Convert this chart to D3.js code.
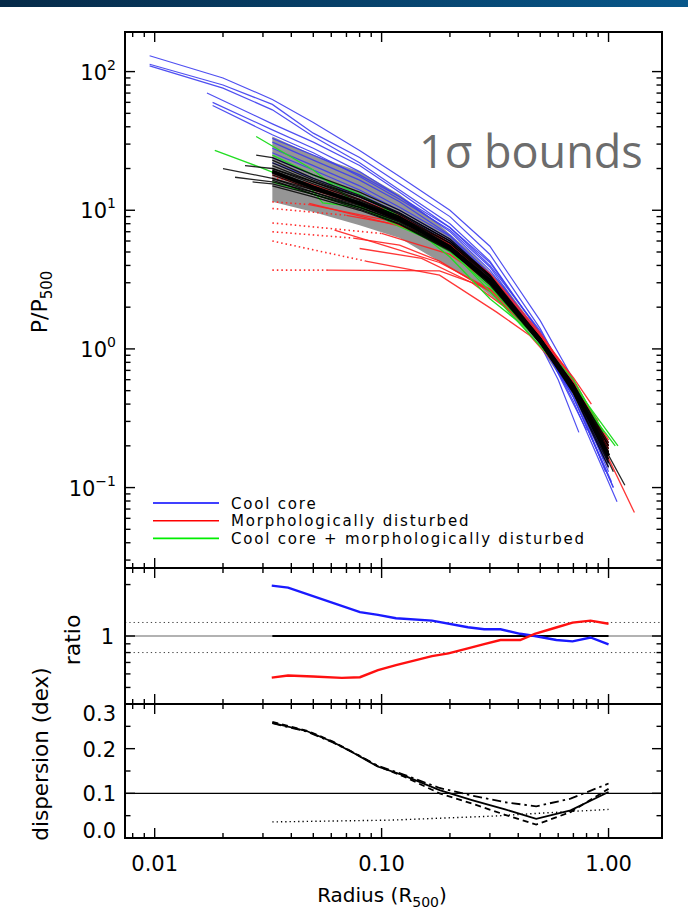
<!DOCTYPE html>
<html><head><meta charset="utf-8">
<script src="https://cdn.jsdelivr.net/npm/d3@7"></script>
<style>body{margin:0;background:#fff}svg{display:block}</style>
</head><body><svg id="c" width="688" height="912"></svg>
<script>
// ---------------- DATA ----------------
const xTickValues = [0.01, 0.1, 1];
const xTickLabels = ["0.01", "0.10", "1.00"];
const yTopTickValues = [0.1, 1, 10, 100];
const yTopTickExp = ["\u22121", "0", "1", "2"];
const ratioTickValues = [1];
const ratioTickLabels = ["1"];
const dispTickValues = [0.0, 0.1, 0.2, 0.3];
const dispTickLabels = ["0.0", "0.1", "0.2", "0.3"];
const legendLabels = ["Cool core", "Morphologically disturbed", "Cool core + morphologically disturbed"];

// 1-sigma band
const bandR  = [0.033, 0.05, 0.08, 0.12, 0.17, 0.25, 0.35, 0.5, 0.7, 1.0];
const bandHi = [34, 25, 19, 13, 8.5, 4.9, 2.8, 1.28, 0.6, 0.21];
const bandLo = [11.5, 9.7, 7.8, 6.3, 4.5, 3.1, 2.0, 1.03, 0.45, 0.135];

// profiles [r, P/P500]
const blueProfiles = [
 [[0.0095,130],[0.02,90],[0.033,63],[0.05,43],[0.08,27],[0.12,17.5],[0.2,10],[0.3,5.5],[0.5,1.6],[0.7,0.6],[0.95,0.16]],
 [[0.0095,113],[0.02,80],[0.033,58],[0.05,36],[0.08,24],[0.12,15.5],[0.2,9],[0.3,4.8],[0.5,1.4],[0.7,0.5],[1.0,0.13]],
 [[0.0095,110],[0.02,76],[0.033,53],[0.05,34],[0.08,22],[0.12,14],[0.2,8],[0.3,4.3],[0.5,1.3],[0.7,0.45],[1.05,0.1]],
 [[0.017,70],[0.033,42],[0.05,31],[0.08,21],[0.12,13.5],[0.2,7.5],[0.3,4.0],[0.5,1.35],[0.7,0.55],[0.92,0.22]],
 [[0.018,60],[0.033,38],[0.05,28],[0.08,19],[0.12,12.5],[0.2,7],[0.3,3.7],[0.5,1.25],[0.75,0.4],[1.0,0.14]],
 [[0.018,57],[0.033,35],[0.05,26],[0.08,17.5],[0.12,12],[0.2,7.2],[0.3,3.9],[0.5,1.2],[0.8,0.26]],
 [[0.033,31],[0.05,23],[0.08,16.5],[0.12,11.5],[0.2,6.6],[0.3,3.5],[0.5,1.2],[0.7,0.55],[1.0,0.15]],
 [[0.033,28],[0.05,21],[0.08,15],[0.12,10.5],[0.2,6.5],[0.3,3.3],[0.45,1.5],[0.6,0.6],[0.74,0.25]],
 [[0.033,26],[0.05,19.5],[0.08,14],[0.12,10],[0.2,6.2],[0.3,3.4],[0.5,1.15],[0.7,0.45],[1.05,0.1]],
 [[0.033,24],[0.05,18],[0.08,13],[0.12,9.5],[0.2,6],[0.3,3.5],[0.5,1.2],[0.7,0.42],[1.09,0.079]],
 [[0.033,22],[0.05,17],[0.08,12.5],[0.12,9.2],[0.2,5.8],[0.3,3.3],[0.5,1.1],[0.7,0.45],[1.03,0.11]],
 [[0.033,33],[0.05,25],[0.08,18],[0.12,12.5],[0.2,7.5],[0.3,4.2],[0.5,1.3],[0.7,0.5],[0.97,0.13]]
];
const blackProfiles = [
 [[0.02,20],[0.033,17],[0.05,14],[0.08,11.5],[0.12,9],[0.2,5.8],[0.3,3.3],[0.5,1.2],[0.7,0.5],[1.0,0.16]],
 [[0.0226,17.3],[0.033,16],[0.05,13.5],[0.08,10.5],[0.12,8.2],[0.2,5.2],[0.3,3.0],[0.5,1.1],[0.7,0.5],[1.0,0.18]],
 [[0.027,16],[0.033,15.5],[0.05,13],[0.08,10.5],[0.12,8.3],[0.2,5.5],[0.3,3.1],[0.5,1.15],[0.75,0.42],[1.05,0.13]],
 [[0.025,21],[0.033,20],[0.05,16],[0.08,12.5],[0.12,9.5],[0.2,6],[0.3,3.4],[0.5,1.2],[0.7,0.55],[0.95,0.2]],
 [[0.028,25],[0.033,24],[0.05,18],[0.08,13.5],[0.12,10],[0.2,6.2],[0.3,3.4],[0.5,1.15],[0.7,0.5],[1.0,0.17]],
 [[0.033,21],[0.05,16],[0.08,12],[0.12,9],[0.2,5.6],[0.3,3.1],[0.5,1.1],[0.7,0.5],[1.0,0.19]],
 [[0.033,19.5],[0.05,15],[0.08,11.5],[0.12,8.8],[0.2,5.4],[0.3,3.0],[0.5,1.12],[0.7,0.52],[1.0,0.2]],
 [[0.033,18],[0.05,14],[0.08,11],[0.12,8.5],[0.2,5.4],[0.3,3.1],[0.5,1.18],[0.7,0.55],[1.0,0.21]],
 [[0.033,17],[0.05,13.5],[0.08,10.8],[0.12,8.4],[0.2,5.5],[0.3,3.2],[0.5,1.2],[0.7,0.55],[1.0,0.18]],
 [[0.033,22],[0.05,16.5],[0.08,12.5],[0.12,9.3],[0.2,5.8],[0.3,3.2],[0.5,1.15],[0.7,0.5],[1.18,0.104]],
 [[0.033,20],[0.05,15.5],[0.08,11.8],[0.12,9],[0.2,5.5],[0.3,3.0],[0.5,1.1],[0.7,0.48],[1.0,0.15]],
 [[0.033,16.5],[0.05,13],[0.08,10.2],[0.12,8],[0.2,5.2],[0.3,3.0],[0.5,1.15],[0.7,0.55],[0.95,0.22]],
 [[0.033,23],[0.05,17],[0.08,12.8],[0.12,9.6],[0.2,6],[0.3,3.3],[0.5,1.15],[0.7,0.48],[1.0,0.14]],
 [[0.033,18.5],[0.05,14.2],[0.08,11],[0.12,8.5],[0.2,5.2],[0.3,2.9],[0.5,1.1],[0.7,0.5],[1.0,0.17]],
 [[0.033,15],[0.05,12.5],[0.08,10],[0.12,7.9],[0.2,5.1],[0.3,3.0],[0.5,1.2],[0.7,0.56],[1.0,0.2]],
 [[0.033,19],[0.05,14.8],[0.08,11.3],[0.12,8.7],[0.2,5.5],[0.3,3.1],[0.5,1.13],[0.7,0.5],[1.0,0.16]]
];
const medianProfile = [[0.033,19],[0.05,14.6],[0.08,11.2],[0.12,8.6],[0.2,5.4],[0.3,3.1],[0.5,1.15],[0.7,0.52],[1.0,0.17]];
const redDotted = [
 [[0.033,17],[0.045,16]],
 [[0.033,11.5],[0.048,11]],
 [[0.033,10.3],[0.07,9.2]],
 [[0.033,8.1],[0.1,6.8]],
 [[0.033,7.0],[0.075,6.3]],
 [[0.033,6.0],[0.085,4.3]],
 [[0.033,3.7],[0.058,3.7]]
];
const redProfiles = [
 [[0.045,16],[0.08,12],[0.12,9.2],[0.2,5.7],[0.3,3.2],[0.5,1.15],[0.7,0.52],[1.0,0.18]],
 [[0.048,11],[0.105,8.5],[0.2,5.7],[0.3,3.4],[0.5,1.25],[0.7,0.62],[0.84,0.4]],
 [[0.07,9.2],[0.12,7.8],[0.2,5.2],[0.3,3.1],[0.5,1.25],[0.7,0.58],[1.0,0.22]],
 [[0.1,6.8],[0.2,4.8],[0.3,3.0],[0.5,1.2],[0.7,0.55],[1.0,0.2]],
 [[0.075,6.3],[0.12,5.6],[0.18,4.3],[0.3,2.6],[0.5,1.15],[0.7,0.5],[1.0,0.19]],
 [[0.085,4.3],[0.18,3.4],[0.32,1.85],[0.45,1.25],[0.7,0.55],[1.0,0.2]],
 [[0.058,3.7],[0.18,3.65],[0.3,2.7],[0.5,1.2],[0.7,0.55],[1.0,0.19]],
 [[0.048,11.2],[0.18,6.5],[0.3,3.5],[0.5,1.3],[0.7,0.6],[1.0,0.21]],
 [[0.062,7.2],[0.18,4.2],[0.3,2.7],[0.5,1.2],[0.7,0.55],[1.3,0.066]],
 [[0.033,18],[0.05,14],[0.08,11],[0.12,8.4],[0.2,5.4],[0.3,3.2],[0.5,1.2],[0.7,0.56],[1.0,0.2]],
 [[0.08,5.3],[0.15,4.5],[0.25,3.0],[0.4,1.7],[0.6,0.8],[0.9,0.3]]
];
const greenProfiles = [
 [[0.0184,27],[0.029,20.5],[0.048,14.8],[0.055,11.3],[0.105,10],[0.13,8.2],[0.2,5.2],[0.3,2.6],[0.5,1.05],[0.7,0.55],[1.1,0.2]],
 [[0.028,34],[0.05,19.5],[0.08,10.6],[0.12,7.6],[0.2,5.3],[0.3,2.9],[0.5,1.1],[0.7,0.5],[1.07,0.2]],
 [[0.033,25],[0.05,18],[0.08,13],[0.12,9],[0.2,4.6],[0.3,2.3],[0.45,1.35],[0.7,0.6],[0.95,0.25]],
 [[0.033,16],[0.05,13],[0.08,10.5],[0.12,8],[0.2,5],[0.3,2.8],[0.5,1.1],[0.7,0.5],[0.9,0.28]]
];

// ratio panel
const ratioBlueR = [0.0328,0.0387,0.0803,0.0964,0.1157,0.1667,0.240,0.283,0.334,0.408,0.473,0.589,0.694,0.833,1.0];
const ratioBlue  = [1.97,1.92,1.38,1.33,1.27,1.23,1.125,1.095,1.095,1.03,1.0,0.947,0.93,0.98,0.893];
const ratioRedR  = [0.0328,0.0387,0.0499,0.0668,0.0803,0.0964,0.1157,0.1667,0.197,0.240,0.283,0.334,0.408,0.473,0.578,0.694,0.833,1.0];
const ratioRed   = [0.571,0.587,0.579,0.569,0.574,0.631,0.675,0.763,0.791,0.846,0.897,0.947,0.947,1.03,1.114,1.197,1.23,1.18];
const ratioRefLines = [1.2, 0.8];
const ratioRange = [0.033, 1.0];

// dispersion panel
const dispR       = [0.033,0.047,0.061,0.076,0.096,0.125,0.18,0.25,0.35,0.48,0.68,1.0];
const dispAll     = [0.258,0.239,0.215,0.189,0.160,0.140,0.107,0.085,0.064,0.043,0.062,0.103];
const dispDashed  = [0.260,0.240,0.216,0.190,0.161,0.138,0.100,0.077,0.052,0.030,0.058,0.110];
const dispDashDot = [0.257,0.238,0.214,0.190,0.162,0.142,0.112,0.095,0.080,0.071,0.088,0.122];
const dispDotR    = [0.033,0.11,0.31,0.48,1.0];
const dispDotted  = [0.036,0.040,0.049,0.055,0.064];
const dispRef = 0.1;

// ---------------- DRAW ----------------
const svg = d3.select("#c");
const L = 125, R = 662, T1 = 32, B1 = 568, T2 = 568, B2 = 704, T3 = 704, B3 = 838;
const FONT = "DejaVu Sans, sans-serif";

const defs = svg.append("defs");
const grad = defs.append("linearGradient").attr("id","hdr").attr("x1","0").attr("x2","1");
grad.append("stop").attr("offset","0").attr("stop-color","#062a48");
grad.append("stop").attr("offset","1").attr("stop-color","#08578a");
svg.append("rect").attr("x",0).attr("y",0).attr("width",688).attr("height",7).attr("fill","url(#hdr)");

const x = d3.scaleLog().domain([0.0074, 1.72]).range([L, R]);
const yTop = d3.scaleLog().domain([0.0263, 193]).range([B1, T1]);
const yRat = d3.scaleLog().domain([0.4, 2.5]).range([B2, T2]);
const yDis = d3.scaleLinear().domain([0, 0.3]).range([B3, T3]);

function clip(id, t, b) {
  defs.append("clipPath").attr("id", id).append("rect").attr("x", L).attr("y", t).attr("width", R - L).attr("height", b - t);
}
clip("c1", T1, B1); clip("c2", T2, B2); clip("c3", T3, B3);

// ---- top panel ----
const g1 = svg.append("g").attr("clip-path","url(#c1)");
const band = bandR.map((r,i)=>({r, lo: bandLo[i], hi: bandHi[i]}));
g1.append("path").datum(band).attr("fill","#959595")
  .attr("d", d3.area().x(d=>x(d.r)).y0(d=>yTop(d.lo)).y1(d=>yTop(d.hi)));

const line = d3.line().x(d=>x(d[0])).y(d=>yTop(d[1]));
function drawSet(set, color, w, dash, op) {
  g1.selectAll(null).data(set).enter().append("path")
    .attr("d", line).attr("fill","none").attr("stroke", color)
    .attr("stroke-width", w).attr("stroke-opacity", op || 1)
    .attr("stroke-dasharray", dash || null);
}
drawSet(redDotted, "#ff2a2a", 1.6, "1.5,3");
drawSet(blueProfiles, "#3c3cf0", 1.2, null, 0.9);
drawSet(redProfiles, "#ff2020", 1.3, null, 0.9);
drawSet(greenProfiles, "#22dd22", 1.3);
drawSet(blackProfiles, "#000", 1.3, null, 0.85);
drawSet([medianProfile], "#000", 3.5);

svg.append("text").attr("x", 419).attr("y", 168).attr("font-family","Open Sans, sans-serif")
  .attr("font-size", 45).attr("fill","#6c6c6c").text("1\u03c3 bounds");

// legend
const legColors = ["#0000ff", "#ff0000", "#00ee00"];
legendLabels.forEach((t,i)=>{
  const yy = 503 + i*17.7;
  svg.append("line").attr("x1",153).attr("x2",219).attr("y1",yy).attr("y2",yy).attr("stroke",legColors[i]).attr("stroke-width",1.6);
  svg.append("text").attr("x",231).attr("y",yy+5.5).attr("font-family",FONT).attr("font-size",15)
    .attr("letter-spacing","1.8").text(t);
});

// ---- ratio panel ----
const g2 = svg.append("g").attr("clip-path","url(#c2)");
ratioRefLines.forEach(v=>{
  g2.append("line").attr("x1",L).attr("x2",R).attr("y1",yRat(v)).attr("y2",yRat(v))
    .attr("stroke","#444").attr("stroke-width",1).attr("stroke-dasharray","1.3,3");
});
g2.append("line").attr("x1",L).attr("x2",R).attr("y1",yRat(1)).attr("y2",yRat(1)).attr("stroke","#999").attr("stroke-width",1.5);
g2.append("line").attr("x1",x(ratioRange[0])).attr("x2",x(ratioRange[1])).attr("y1",yRat(1)).attr("y2",yRat(1)).attr("stroke","#000").attr("stroke-width",2.2);
const rline = d3.line().x(d=>x(d[0])).y(d=>yRat(d[1]));
g2.append("path").datum(ratioBlueR.map((r,i)=>[r,ratioBlue[i]])).attr("d",rline).attr("fill","none").attr("stroke","#1a1aff").attr("stroke-width",2.4);
g2.append("path").datum(ratioRedR.map((r,i)=>[r,ratioRed[i]])).attr("d",rline).attr("fill","none").attr("stroke","#ff1010").attr("stroke-width",2.4);

// ---- dispersion panel ----
const g3 = svg.append("g").attr("clip-path","url(#c3)");
g3.append("line").attr("x1",L).attr("x2",R).attr("y1",yDis(dispRef)).attr("y2",yDis(dispRef)).attr("stroke","#000").attr("stroke-width",1.1);
const dline = d3.line().x(d=>x(d[0])).y(d=>yDis(d[1]));
function dpath(rs, vs, dash, w) {
  g3.append("path").datum(rs.map((r,i)=>[r,vs[i]])).attr("d",dline).attr("fill","none")
    .attr("stroke","#000").attr("stroke-width",w).attr("stroke-dasharray",dash);
}
dpath(dispDotR, dispDotted, "1.3,3", 1.4);
dpath(dispR, dispDashDot, "9,4,2.5,4", 1.8);
dpath(dispR, dispDashed, "6,4", 1.8);
dpath(dispR, dispAll, null, 1.8);

// ---- axes / ticks ----
const ax = svg.append("g").attr("stroke","#000").attr("stroke-width",1.4);
function logTicks(dom) {
  const out = [];
  for (let e = Math.floor(Math.log10(dom[0])); e <= Math.ceil(Math.log10(dom[1])); e++)
    for (let k = 1; k <= 9; k++) { const v = k*Math.pow(10,e); if (v > dom[0]*1.0001 && v < dom[1]*0.9999) out.push({v, major: k===1}); }
  return out;
}
const xt = logTicks(x.domain());
[[T1,B1],[T2,B2],[T3,B3]].forEach(([t,b])=>{
  xt.forEach(d=>{
    const len = d.major ? 10 : 5, xx = x(d.v);
    ax.append("line").attr("x1",xx).attr("x2",xx).attr("y1",t).attr("y2",t+len);
    ax.append("line").attr("x1",xx).attr("x2",xx).attr("y1",b).attr("y2",b-len);
  });
});
function yt(scale, ticks) {
  ticks.forEach(d=>{
    const len = d.major ? 10 : 5.5, yy = scale(d.v);
    ax.append("line").attr("x1",L).attr("x2",L+len).attr("y1",yy).attr("y2",yy);
    ax.append("line").attr("x1",R).attr("x2",R-len).attr("y1",yy).attr("y2",yy);
  });
}
yt(yTop, logTicks(yTop.domain()));
yt(yRat, logTicks(yRat.domain()));
yt(yDis, [0.05,0.1,0.15,0.2,0.25].map(v=>({v, major: Math.abs((v*10)%1) < 1e-6})));

// frames
[[T1,B1],[T2,B2],[T3,B3]].forEach(([t,b])=>{
  svg.append("rect").attr("x",L).attr("y",t).attr("width",R-L).attr("height",b-t)
    .attr("fill","none").attr("stroke","#000").attr("stroke-width",2);
});

// labels
const lab = svg.append("g").attr("font-family",FONT).attr("fill","#000");
yTopTickValues.forEach((v,i)=>{
  const t = lab.append("text").attr("x",116).attr("y",yTop(v)+8).attr("text-anchor","end").attr("font-size",21);
  t.append("tspan").text("10");
  t.append("tspan").attr("dy",-10).attr("font-size",14).text(yTopTickExp[i]);
});
ratioTickValues.forEach((v,i)=>{
  lab.append("text").attr("x",114).attr("y",yRat(v)+8).attr("text-anchor","end").attr("font-size",21).text(ratioTickLabels[i]);
});
const dispNudge = [-8, 0, 0, 9];
dispTickValues.forEach((v,i)=>{
  lab.append("text").attr("x",116).attr("y",yDis(v)+8+dispNudge[i]).attr("text-anchor","end").attr("font-size",21).text(dispTickLabels[i]);
});
xTickValues.forEach((v,i)=>{
  lab.append("text").attr("x",x(v)).attr("y",871).attr("text-anchor","middle").attr("font-size",21).text(xTickLabels[i]);
});
const xl = lab.append("text").attr("x",382).attr("y",902).attr("text-anchor","middle").attr("font-size",20);
xl.append("tspan").text("Radius (R");
xl.append("tspan").attr("dy",5).attr("font-size",14).text("500");
xl.append("tspan").attr("dy",-5).text(")");

const yl = lab.append("text").attr("transform","translate(47,302) rotate(-90)").attr("text-anchor","middle").attr("font-size",22);
yl.append("tspan").text("P/P");
yl.append("tspan").attr("dy",5).attr("font-size",15).text("500");

lab.append("text").attr("transform","translate(80,640) rotate(-90)").attr("text-anchor","middle").attr("font-size",22).text("ratio");
lab.append("text").attr("transform","translate(48,754) rotate(-90)").attr("text-anchor","middle").attr("font-size",21.5).text("dispersion  (dex)");
</script></body></html>
